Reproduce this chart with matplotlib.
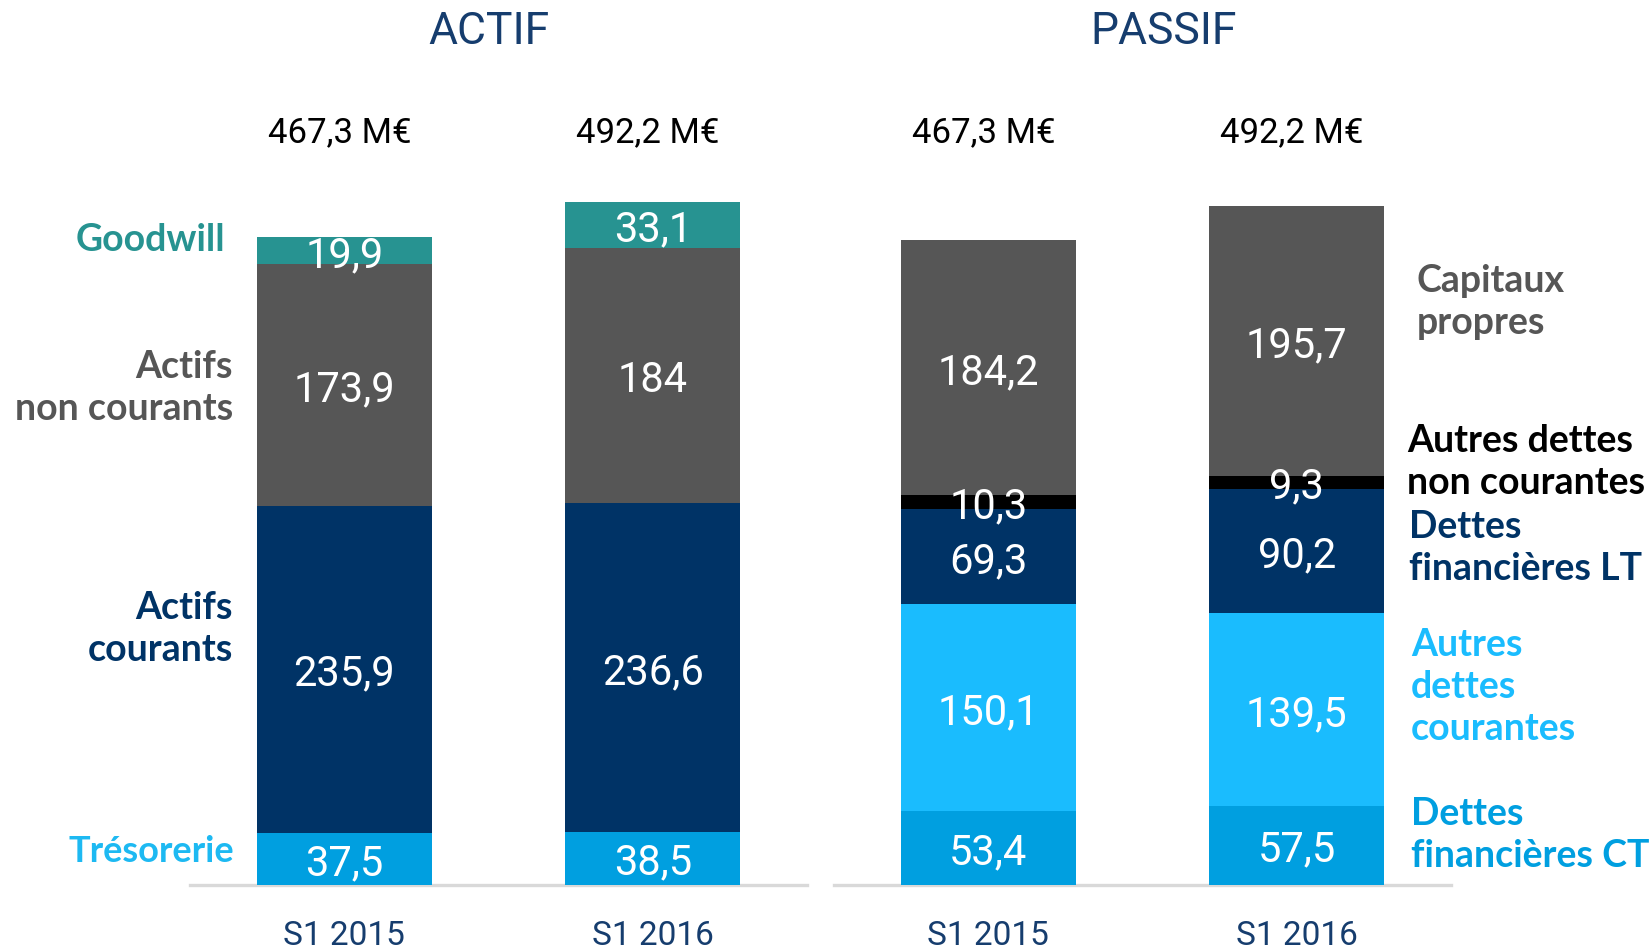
import matplotlib
matplotlib.use("Agg")
import matplotlib.pyplot as plt
from matplotlib import font_manager as fm
from matplotlib import transforms

# ---------------- data ----------------
periods = ["S1 2015", "S1 2016"]
totals_actif = ["467,3 M€", "492,2 M€"]
totals_passif = ["467,3 M€", "492,2 M€"]

# ACTIF, bottom to top
tresorerie = [37.5, 38.5]
actifs_courants = [235.9, 236.6]
actifs_non_courants = [173.9, 184.0]
goodwill = [19.9, 33.1]

# PASSIF, bottom to top
dettes_fin_ct = [53.4, 57.5]
autres_dettes_courantes = [150.1, 139.5]
dettes_fin_lt = [69.3, 90.2]
autres_dettes_nc = [10.3, 9.3]
capitaux_propres = [184.2, 195.7]

# ---------------- style ----------------
names = {f.name for f in fm.fontManager.ttflist}
NARROW = "Roboto" if "Roboto" in names else "DejaVu Sans"
BOLD = "Lato" if "Lato" in names else "DejaVu Sans"

TEAL = "#279391"
GREY = "#565656"
NAVY = "#003366"
MIDBLUE = "#009FE0"
LIGHTBLUE = "#1ABCFE"
BLACK = "#000000"
TITLE = "#163D6E"

W, H = 1650, 950
fig = plt.figure(figsize=(W / 100, H / 100), dpi=100)


def fx(x):
    return x / W


def fy(y):
    return 1 - y / H


def fmt(v):
    return f"{v:g}".replace(".", ",")


def stacked(ax, series, colors, ymax):
    xs = [0, 1]
    bottom = [0.0, 0.0]
    for vals, col in zip(series, colors):
        bars = ax.bar(xs, vals, width=0.567, bottom=bottom, color=col,
                      edgecolor="none", zorder=2)
        anns = ax.bar_label(bars, labels=[fmt(v) for v in vals],
                            label_type="center", color="white", fontsize=30,
                            family=NARROW)
        for a in anns:
            a.xyann = (0, -3.5)
        bottom = [b + v for b, v in zip(bottom, vals)]
    ax.set_xlim(-0.5, 1.5)
    ax.set_ylim(0, ymax)
    ax.axhline(0, color="#d9d9d9", lw=2.4, zorder=1, clip_on=False)
    for s in ax.spines.values():
        s.set_visible(False)
    ax.set_yticks([])
    ax.set_xticks(xs)
    ax.set_xticklabels(periods, fontsize=24, family=NARROW, color=TITLE)
    ax.tick_params(axis="x", length=0, pad=25)
    ax.patch.set_alpha(0)


axb = (H - 885) / H
axh = 720 / H
ax1 = fig.add_axes([fx(190), axb, 617 / W, axh])
ax2 = fig.add_axes([fx(834), axb, 617 / W, axh])

stacked(ax1, [tresorerie, actifs_courants, actifs_non_courants, goodwill],
        [MIDBLUE, NAVY, GREY, TEAL], 519)
stacked(ax2, [dettes_fin_ct, autres_dettes_courantes, dettes_fin_lt,
              autres_dettes_nc, capitaux_propres],
        [MIDBLUE, LIGHTBLUE, NAVY, BLACK, GREY], 522)

# totals above bars
for ax, tots in ((ax1, totals_actif), (ax2, totals_passif)):
    tr = transforms.blended_transform_factory(ax.transData, fig.transFigure)
    for i, t in enumerate(tots):
        ax.text(i - 0.015, fy(133), t, transform=tr, ha="center", va="center",
                fontsize=25, family=NARROW, color="black")

# titles
fig.text(fx(489), fy(32), "ACTIF", ha="center", va="center", fontsize=32,
         family=NARROW, color=TITLE)
fig.text(fx(1164), fy(32), "PASSIF", ha="center", va="center", fontsize=32,
         family=NARROW, color=TITLE)

# left category labels
lab = dict(fontsize=27, family=BOLD, weight="bold", linespacing=1.28)
fig.text(fx(225), fy(240), "Goodwill", ha="right", va="center", color=TEAL, **lab)
fig.text(fx(233), fy(388), "Actifs\nnon courants", ha="right", va="center",
         color=GREY, **lab)
fig.text(fx(233), fy(629), "Actifs\ncourants", ha="right", va="center",
         color=NAVY, **lab)
fig.text(fx(234), fy(852), "Trésorerie", ha="right", va="center",
         color="#1DB9F2", fontsize=26, family=BOLD, weight="bold")

# right category labels
fig.text(fx(1417), fy(302), "Capitaux\npropres", ha="left", va="center",
         color=GREY, **lab)
fig.text(fx(1407), fy(462), "Autres dettes\nnon courantes", ha="left",
         va="center", color=BLACK, **lab)
fig.text(fx(1409), fy(548), "Dettes\nfinancières LT", ha="left", va="center",
         color=NAVY, **lab)
fig.text(fx(1411), fy(687), "Autres\ndettes\ncourantes", ha="left", va="center",
         color=LIGHTBLUE, **lab)
fig.text(fx(1411), fy(835), "Dettes\nfinancières CT", ha="left", va="center",
         color=MIDBLUE, **lab)

fig.savefig("out.png", dpi=100, facecolor="white")
